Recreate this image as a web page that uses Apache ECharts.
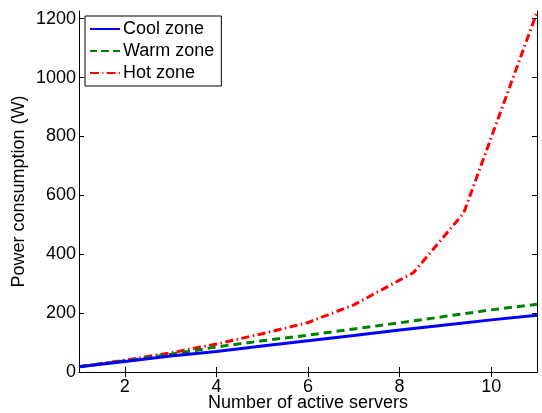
<!DOCTYPE html>
<html>
<head>
<meta charset="utf-8">
<script src="https://cdn.jsdelivr.net/npm/echarts@6/dist/echarts.min.js"></script>
<style>
  html, body { margin: 0; padding: 0; background: #fff; }
  #chart { width: 542px; height: 413px; }
</style>
</head>
<body>
<div id="chart"></div>
<script>
// Power draw per zone versus number of active servers
const coolServers = [1, 2, 3, 4, 5, 6, 7, 8, 9, 10, 11];
const coolPower   = [18, 36, 54, 70, 88, 106, 124, 143, 160, 177, 193];

const warmServers = [1, 2, 3, 4, 5, 6, 7, 8, 9, 10, 11];
const warmPower   = [18, 38, 60, 85, 106, 125, 146, 167, 189, 211, 230];

const hotServers  = [1, 2, 3, 4, 5, 6, 7, 8, 8.3, 9.4, 11];
const hotPower    = [18, 40, 65, 95, 130, 168, 228, 312, 337, 540, 1222];

const xTicks = [2, 4, 6, 8, 10];
const yTicks = [0, 200, 400, 600, 800, 1000, 1200];

const pairs = (xs, ys) => xs.map((x, i) => [x, ys[i]]);

const FONT = 'Liberation Sans, Arial, sans-serif';
const FS = 18;
const chart = echarts.init(document.getElementById('chart'), null, { renderer: 'canvas' });

const axisLine = { show: true, lineStyle: { color: '#000', width: 1 } };
const tickStyle = (vals) => ({ show: true, inside: true, length: 5, customValues: vals, lineStyle: { color: '#000', width: 1 } });
const plain = (v) => String(v);

chart.setOption({
  animation: false,
  backgroundColor: '#fff',
  grid: { left: 79, right: 5, top: 11, bottom: 41, containLabel: false, outerBoundsMode: 'none' },
  legend: {
    left: 85, top: 16,
    orient: 'vertical',
    itemWidth: 30, itemHeight: 10, itemGap: 4,
    padding: [4, 7, 4, 5],
    borderColor: '#000', borderWidth: 1, borderRadius: 0,
    backgroundColor: '#fff',
    textStyle: { fontFamily: FONT, fontSize: FS, color: '#000', padding: [0, 0, 0, -2] },
    data: [
      { name: 'Cool zone', icon: 'path://M0,4 L30,4 L30,6 L0,6 Z' },
      { name: 'Warm zone', icon: 'path://M0,4 L7,4 L7,6 L0,6 Z M11,4 L19,4 L19,6 L11,6 Z M23,4 L30,4 L30,6 L23,6 Z' },
      { name: 'Hot zone', icon: 'path://M0,4 L8,4 L8,6 L0,6 Z M11,4 L12,4 L12,6 L11,6 Z M15,4 L23,4 L23,6 L15,6 Z M26,4 L27,4 L27,6 L26,6 Z' }
    ]
  },
  xAxis: [
    {
      type: 'value', min: 1, max: 11,
      name: 'Number of active servers', nameLocation: 'middle', nameGap: 22, nameMoveOverlap: false,
      nameTextStyle: { fontFamily: FONT, fontSize: FS, color: '#000' },
      axisLine, splitLine: { show: false },
      axisTick: tickStyle(xTicks),
      axisLabel: { customValues: xTicks, formatter: plain, fontFamily: FONT, fontSize: FS, color: '#000', margin: 6 }
    },
    {
      type: 'value', min: 1, max: 11, position: 'top',
      axisLine, splitLine: { show: false },
      axisTick: tickStyle(xTicks),
      axisLabel: { show: false }
    }
  ],
  yAxis: [
    {
      type: 'value', min: 0, max: 1226,
      name: 'Power consumption (W)', nameLocation: 'middle', nameGap: 51, nameMoveOverlap: false,
      nameTextStyle: { fontFamily: FONT, fontSize: FS, color: '#000' },
      axisLine, splitLine: { show: false },
      axisTick: tickStyle(yTicks),
      axisLabel: { customValues: yTicks, formatter: plain, fontFamily: FONT, fontSize: FS, color: '#000', margin: 3 }
    },
    {
      type: 'value', min: 0, max: 1226, position: 'right',
      axisLine, splitLine: { show: false },
      axisTick: tickStyle(yTicks),
      axisLabel: { show: false }
    }
  ],
  series: [
    {
      name: 'Cool zone', type: 'line', data: pairs(coolServers, coolPower),
      showSymbol: false, color: '#0000ff',
      lineStyle: { width: 3, color: '#0000ff', type: 'solid' }, z: 3
    },
    {
      name: 'Warm zone', type: 'line', data: pairs(warmServers, warmPower),
      showSymbol: false, color: '#008000',
      lineStyle: { width: 3, color: '#008000', type: [8, 5] }, z: 2
    },
    {
      name: 'Hot zone', type: 'line', data: pairs(hotServers, hotPower),
      showSymbol: false, color: '#ff0000',
      lineStyle: { width: 3, color: '#ff0000', type: [8, 3.5, 1.5, 3.5] }, z: 1
    }
  ]
});
</script>
</body>
</html>
